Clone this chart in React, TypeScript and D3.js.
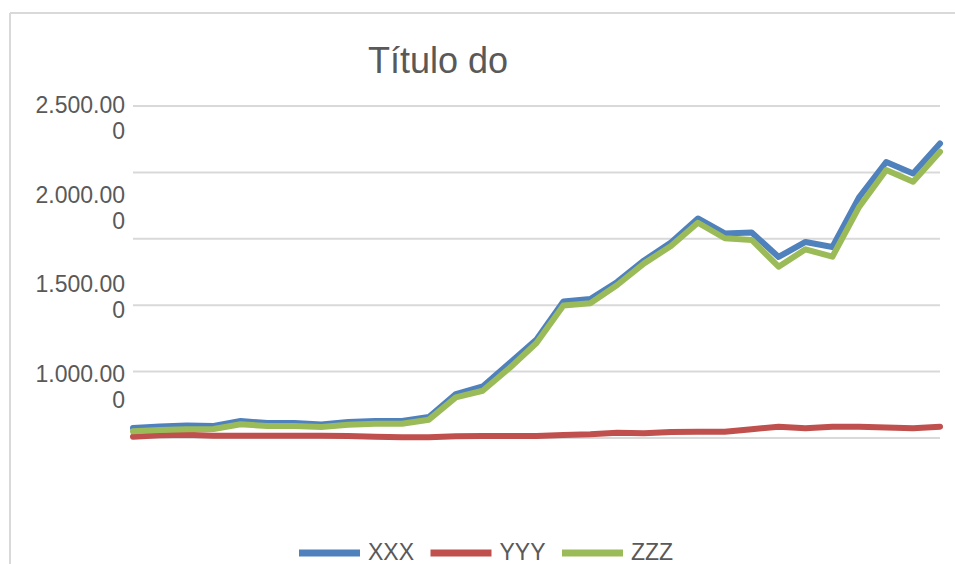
import React from "react";
import * as d3 from "d3";

// 31 periods, values
const periods = d3.range(31);

const xxx = [
  75000, 87000, 94000, 90000, 128000, 113000, 113000, 102000, 120000, 128000,
  128000, 158000, 331000, 388000, 565000, 742000, 1028000, 1047000, 1175000,
  1337000, 1472000, 1653000, 1540000, 1547000, 1363000, 1476000, 1438000,
  1815000, 2078000, 1992000, 2218000,
];

const yyy = [
  10000, 20000, 25000, 17000, 17000, 17000, 17000, 17000, 15000, 10000, 5000,
  5000, 13000, 15000, 15000, 15000, 23000, 28000, 40000, 35000, 45000, 47000,
  47000, 66000, 85000, 73000, 85000, 85000, 80000, 73000, 85000,
];

const zzz = [
  50000, 60000, 66000, 68000, 103000, 90000, 90000, 83000, 100000, 108000,
  108000, 138000, 306000, 356000, 527000, 715000, 998000, 1014000, 1152000,
  1315000, 1446000, 1621000, 1504000, 1491000, 1290000, 1421000, 1365000,
  1742000, 2018000, 1930000, 2156000,
];

const seriesNames = ["XXX", "YYY", "ZZZ"];
const seriesColors = ["#4F81BD", "#C0504D", "#9BBB59"];
const gridValues = [0, 500000, 1000000, 1500000, 2000000, 2500000];
const tickLabels = ["2.500.000", "2.000.000", "1.500.000", "1.000.000"];

const W = 955;
const H = 564;
const font = "'Liberation Sans', Arial, sans-serif";

export default function App() {
  const x = d3.scalePoint<number>().domain(periods).range([133, 940]);
  const y = d3.scaleLinear().domain([0, 2500000]).range([438, 106]);
  // Excel squeezed the wrapped labels into their own slots
  const labelY = d3.scalePoint<string>().domain(tickLabels).range([113, 382]);

  const line = d3
    .line<number>()
    .x((_, i) => x(i) as number)
    .y((d) => y(d));

  const data = [xxx, yyy, zzz];

  // legend layout
  const legendX = d3.scalePoint<string>().domain(seriesNames).range([299, 562]);

  return (
    <svg
      width={W}
      height={H}
      style={{ position: "fixed", left: 0, top: 0, background: "#fff" }}
    >
      <line x1={10} x2={W} y1={13} y2={13} stroke="#D9D9D9" strokeWidth={2} />
      <line x1={10} x2={10} y1={13} y2={H} stroke="#D9D9D9" strokeWidth={2} />

      <text
        x={438}
        y={73}
        textAnchor="middle"
        fontFamily={font}
        fontSize={36}
        fill="#595959"
      >
        Título do
      </text>

      {gridValues.map((v) => (
        <line
          key={v}
          x1={133}
          x2={940}
          y1={y(v)}
          y2={y(v)}
          stroke="#D9D9D9"
          strokeWidth={2}
        />
      ))}

      {tickLabels.map((t) => (
        <text
          key={t}
          textAnchor="end"
          fontFamily={font}
          fontSize={23}
          fill="#595959"
        >
          <tspan x={125} y={labelY(t)}>
            {t.slice(0, -1)}
          </tspan>
          <tspan x={125} y={(labelY(t) as number) + 26}>
            {t.slice(-1)}
          </tspan>
        </text>
      ))}

      {data.map((d, i) => (
        <path
          key={seriesNames[i]}
          d={line(d) || ""}
          fill="none"
          stroke={seriesColors[i]}
          strokeWidth={6}
          strokeLinejoin="round"
          strokeLinecap="round"
        />
      ))}

      {seriesNames.map((name, i) => {
        const lx = legendX(name) as number;
        return (
          <g key={name}>
            <line
              x1={lx}
              x2={lx + 61}
              y1={553}
              y2={553}
              stroke={seriesColors[i]}
              strokeWidth={7}
            />
            <text
              x={lx + 69}
              y={560}
              fontFamily={font}
              fontSize={23}
              fill="#595959"
            >
              {name}
            </text>
          </g>
        );
      })}
    </svg>
  );
}
